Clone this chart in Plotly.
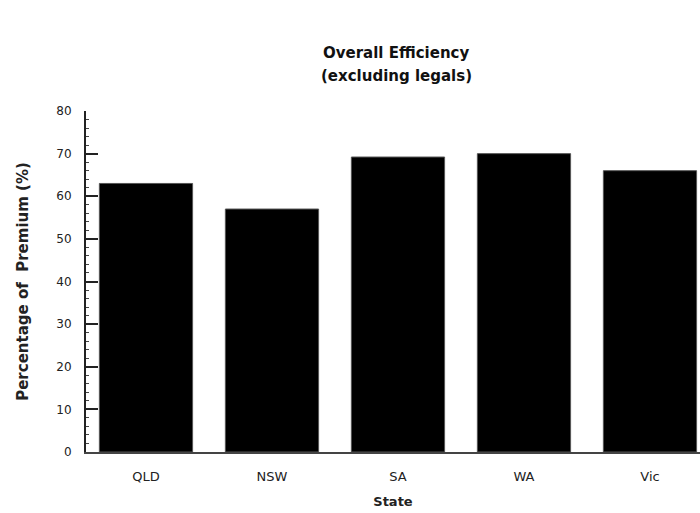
import plotly.graph_objects as go

states = ["QLD", "NSW", "SA", "WA", "Vic"]
efficiency = [63, 57, 69.2, 70, 66]
y_ticks = [0, 10, 20, 30, 40, 50, 60, 70, 80]
title_lines = ["Overall Efficiency", "(excluding legals)"]

fig = go.Figure()
fig.add_trace(go.Bar(
    x=states, y=efficiency,
    marker=dict(color="black", line=dict(color="#555555", width=1)),
    width=0.74,
))

font = "DejaVu Sans, sans-serif"
for i, line in enumerate(title_lines):
    fig.add_annotation(
        text=f"<b>{line}</b>", xref="paper", yref="paper",
        x=0.505, y=1.17 - i * 0.0675, xanchor="center", yanchor="middle",
        showarrow=False, font=dict(family=font, size=15, color="#111111"),
    )

fig.update_layout(
    width=700, height=513,
    margin=dict(l=86, r=0, t=111, b=61),
    paper_bgcolor="white", plot_bgcolor="white",
    showlegend=False,
    font=dict(family=font, size=12, color="#222222"),
    xaxis=dict(
        type="category",
        range=[-0.476, 4.397],
        showline=True, linecolor="#444444", linewidth=2,
        ticks="outside", ticklen=11, tickcolor="rgba(0,0,0,0)",
        showgrid=False,
        title=dict(text="<b>State</b>", standoff=14, font=dict(size=13)),
        tickfont=dict(size=13),
    ),
    yaxis=dict(
        range=[0, 80],
        tickvals=y_ticks,
        showline=True, linecolor="#222222", linewidth=2,
        ticks="inside", ticklen=12, tickwidth=2, tickcolor="#222222",
        minor=dict(ticks="inside", dtick=2, ticklen=3, tickwidth=1, tickcolor="#444444"),
        showgrid=False, zeroline=False,
        ticklabelstandoff=10,
        title=dict(text="<b>Percentage of  Premium (%)</b>", standoff=24, font=dict(size=15)),
        tickfont=dict(size=12),
    ),
)

fig.write_html(
    "out.html",
    config={"displayModeBar": False},
    post_script="document.body.style.margin='0';document.body.style.overflow='hidden';",
)
